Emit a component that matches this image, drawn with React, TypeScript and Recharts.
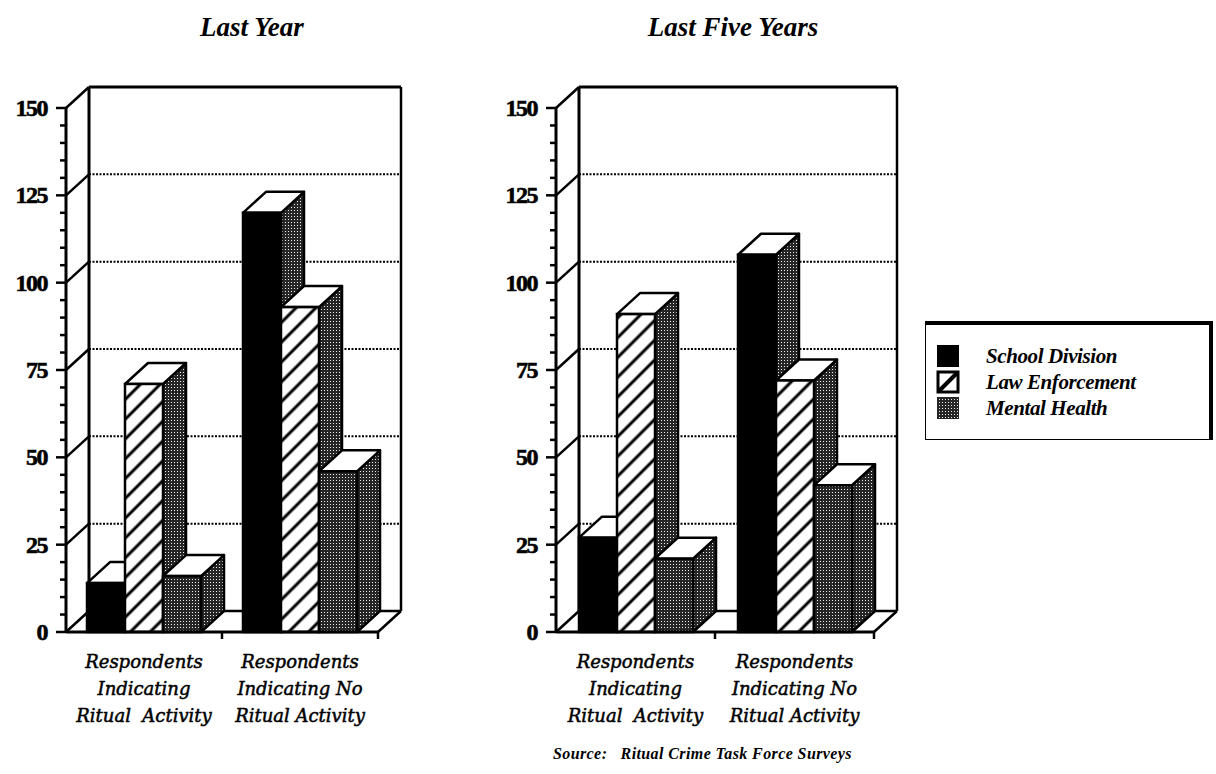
import { BarChart, Bar, XAxis, YAxis, CartesianGrid, ReferenceArea } from 'recharts'

const CATEGORIES = [
  'Respondents Indicating Ritual Activity',
  'Respondents Indicating No Ritual Activity',
]
const CATEGORY_LINES = [
  ['Respondents', 'Indicating', 'Ritual  Activity'],
  ['Respondents', 'Indicating No', 'Ritual Activity'],
]
const SERIES = ['School Division', 'Law Enforcement', 'Mental Health']

const LAST_YEAR_SCHOOL = [14, 120]
const LAST_YEAR_LAW = [71, 93]
const LAST_YEAR_MENTAL = [16, 46]

const FIVE_YEARS_SCHOOL = [27, 108]
const FIVE_YEARS_LAW = [91, 72]
const FIVE_YEARS_MENTAL = [21, 42]

const Y_TICKS = [0, 5, 10, 15, 20, 25, 30, 35, 40, 45, 50, 55, 60, 65, 70, 75, 80, 85, 90, 95, 100,
  105, 110, 115, 120, 125, 130, 135, 140, 145, 150]
const Y_LABELS = [0, 25, 50, 75, 100, 125, 150]
const GRID_VALUES = [25, 50, 75, 100, 125]

// depth of the fake 3d box
const DX = 23
const DY = -21

const SERIF = '"Liberation Serif", "Times New Roman", serif'

const buildRows = (school: number[], law: number[], mental: number[]) =>
  CATEGORIES.map((cat, i) => ({ cat, school: school[i], law: law[i], mental: mental[i] }))

const Bar3D = (props: any) => {
  const { x, y, width: w, height: h, fill } = props
  if (x == null || y == null || !h) return null
  const top = `M${x},${y} L${x + DX},${y + DY} L${x + w + DX},${y + DY} L${x + w},${y} Z`
  const side = `M${x + w},${y} L${x + w + DX},${y + DY} L${x + w + DX},${y + h + DY} L${x + w},${y + h} Z`
  return (
    <g>
      <path d={side} fill="url(#stipple)" stroke="#000" strokeWidth={2.5} strokeLinejoin="round" />
      <path d={top} fill="#fff" stroke="#000" strokeWidth={2.5} strokeLinejoin="round" />
      <rect x={x} y={y} width={w} height={h} fill={fill} stroke="#000" strokeWidth={2.5} />
    </g>
  )
}

const YTick = (props: any) => {
  const { x, y, payload } = props
  const major = Y_LABELS.includes(payload.value)
  return (
    <g>
      <line x1={x - (major ? 10 : 6)} y1={y} x2={x} y2={y} stroke="#000" strokeWidth={2.5} />
      {major && <line x1={x} y1={y} x2={x + DX} y2={y + DY} stroke="#000" strokeWidth={2.5} />}
      {major && (
        <text x={x - 19} y={y} dy={8} textAnchor="end" fill="#000" stroke="#000" strokeWidth={0.6}
          style={{ fontFamily: SERIF, fontWeight: 700, fontSize: 24, letterSpacing: -1.5 }}>
          {payload.value}
        </text>
      )}
    </g>
  )
}

const XTick = (props: any) => {
  const { x, y, payload } = props
  const lines = CATEGORY_LINES[CATEGORIES.indexOf(payload.value)] ?? []
  return (
    <text x={x} y={y} textAnchor="middle" fill="#000" stroke="#000" strokeWidth={0.5}
      style={{ fontFamily: '"DejaVu Serif", serif', fontStyle: 'italic', fontSize: 18 }}>
      {lines.map((l, i) => (
        <tspan key={i} x={x} y={y + 36 + i * 27} style={{ whiteSpace: 'pre' }}>{l}</tspan>
      ))}
    </text>
  )
}

// back wall, right wall edge and floor, drawn from the plot rectangle of the area
const Frame = (props: any) => {
  const { x, y, width: w, height: h } = props
  const bx = x + DX, by = y + DY
  return (
    <g fill="none" stroke="#000">
      <line x1={bx} y1={by} x2={bx} y2={by + h} strokeWidth={3} />
      <line x1={bx} y1={by} x2={bx + w} y2={by} strokeWidth={3} />
      <line x1={bx + w} y1={by} x2={bx + w} y2={by + h} strokeWidth={2.5} />
      <line x1={bx} y1={by + h} x2={bx + w} y2={by + h} strokeWidth={2.5} />
      <line x1={x + w} y1={y + h} x2={bx + w} y2={by + h} strokeWidth={2.5} />
    </g>
  )
}

// small tick on the floor edge at the right end of each category band
const BandTick = (props: any) => {
  const { x, y, width: w, height: h } = props
  return <line x1={x + w} y1={y + h} x2={x + w} y2={y + h + 7} stroke="#000" strokeWidth={2.5} />
}

const backGrid = (p: any) => (
  <line key={p.key} x1={p.x1 + DX} y1={p.y1 + DY} x2={p.x2 + DX} y2={p.y2 + DY}
    stroke="#000" strokeWidth={2} strokeDasharray="2 1.5" />
)

function Chart3D({ rows, width, right }: { rows: any[], width: number, right: number }) {
  return (
    <BarChart width={width} height={774} data={rows} barSize={38} barGap={0}
      margin={{ top: 108, right, bottom: 0, left: 0 }}>
      <CartesianGrid vertical={false} horizontal={backGrid} horizontalValues={GRID_VALUES} />
      <ReferenceArea x1={CATEGORIES[0]} x2={CATEGORIES[1]} y1={0} y2={150} shape={<Frame />} ifOverflow="visible" />
      {CATEGORIES.map(c => (
        <ReferenceArea key={c} x1={c} x2={c} y1={0} y2={150} shape={<BandTick />} ifOverflow="visible" />
      ))}
      <XAxis dataKey="cat" height={142} interval={0} tickSize={0} tickMargin={0} tickLine={false}
        axisLine={{ stroke: '#000', strokeWidth: 3 }} tick={<XTick />} />
      <YAxis width={66} domain={[0, 150]} ticks={Y_TICKS} interval={0} tickSize={0} tickMargin={0}
        tickLine={false} axisLine={{ stroke: '#000', strokeWidth: 3 }} tick={<YTick />} />
      <Bar dataKey="school" fill="#000" shape={<Bar3D />} isAnimationActive={false} />
      <Bar dataKey="law" fill="url(#hatch)" shape={<Bar3D />} isAnimationActive={false} />
      <Bar dataKey="mental" fill="url(#stipple)" shape={<Bar3D />} isAnimationActive={false} />
    </BarChart>
  )
}

const Swatch = ({ i }: { i: number }) => (
  <svg width={24} height={24} style={{ display: 'block' }}>
    {i === 0 && <rect x={1} y={1} width={22} height={22} fill="#000" />}
    {i === 1 && (
      <g>
        <rect x={2} y={2} width={20} height={20} fill="#fff" stroke="#000" strokeWidth={3} />
        <line x1={3} y1={21} x2={21} y2={3} stroke="#000" strokeWidth={4} />
      </g>
    )}
    {i === 2 && <rect x={1} y={1} width={22} height={22} fill="url(#stipple)" />}
  </svg>
)

export default function App() {
  const titleStyle = {
    position: 'absolute' as const, top: 12, width: 300, textAlign: 'center' as const,
    fontFamily: SERIF, fontStyle: 'italic', fontWeight: 700, fontSize: 27, color: '#000',
  }
  return (
    <div style={{ position: 'absolute', left: 0, top: 0, width: 1216, height: 774, background: '#fff', overflow: 'hidden' }}>
      <svg width={0} height={0} style={{ position: 'absolute' }}>
        <defs>
          <pattern id="hatch" patternUnits="userSpaceOnUse" width={14} height={14} patternTransform="rotate(45)">
            <rect width={14} height={14} fill="#fff" />
            <line x1={7} y1={0} x2={7} y2={14} stroke="#000" strokeWidth={3} />
          </pattern>
          <pattern id="stipple" patternUnits="userSpaceOnUse" width={3} height={3}>
            <rect width={3} height={3} fill="#262626" />
            <rect x={0} y={0} width={1} height={1} fill="#eee" />
          </pattern>
        </defs>
      </svg>

      <div style={{ ...titleStyle, left: 102 }}>Last Year</div>
      <div style={{ ...titleStyle, left: 583 }}>Last Five Years</div>

      <div style={{ position: 'absolute', left: 0, top: 0 }}>
        <Chart3D rows={buildRows(LAST_YEAR_SCHOOL, LAST_YEAR_LAW, LAST_YEAR_MENTAL)} width={470} right={92} />
      </div>
      <div style={{ position: 'absolute', left: 490, top: 0 }}>
        <Chart3D rows={buildRows(FIVE_YEARS_SCHOOL, FIVE_YEARS_LAW, FIVE_YEARS_MENTAL)} width={420} right={36} />
      </div>

      <div style={{
        position: 'absolute', left: 925, top: 321, width: 288, height: 119, boxSizing: 'border-box',
        borderLeft: '1.5px solid #000', borderBottom: '1.5px solid #000',
        borderTop: '4px solid #000', borderRight: '4px solid #000', paddingTop: 18, paddingLeft: 10,
      }}>
        {SERIES.map((s, i) => (
          <div key={s} style={{ display: 'flex', alignItems: 'center', height: 26 }}>
            <Swatch i={i} />
            <span style={{
              marginLeft: 26, fontFamily: SERIF, fontStyle: 'italic', fontWeight: 700, fontSize: 21,
              letterSpacing: -0.4, color: '#000',
            }}>{s}</span>
          </div>
        ))}
      </div>

      <div style={{
        position: 'absolute', left: 553, top: 745, fontFamily: SERIF, fontStyle: 'italic', fontWeight: 700,
        fontSize: 16, letterSpacing: 0.4, color: '#000', whiteSpace: 'pre',
      }}>
        {'Source:   Ritual Crime Task Force Surveys'}
      </div>
    </div>
  )
}
